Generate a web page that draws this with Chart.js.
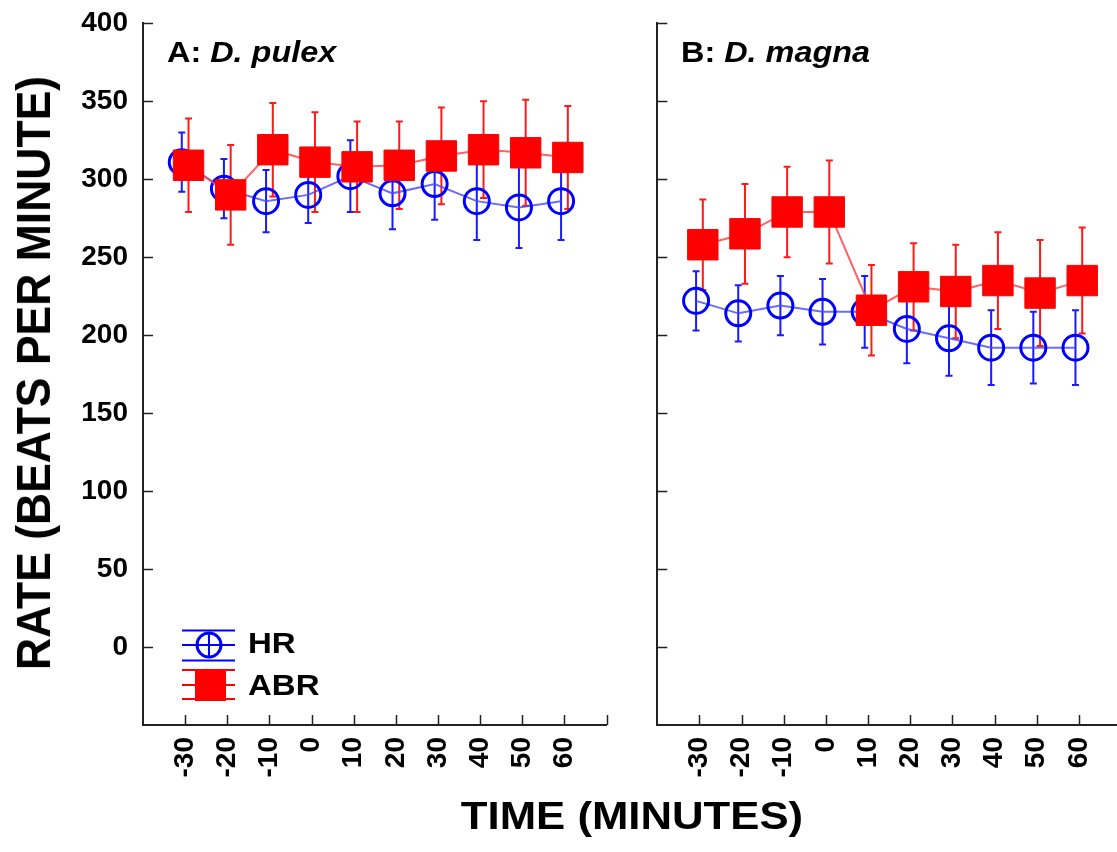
<!DOCTYPE html>
<html lang="en">
  <head>
    <meta charset="UTF-8" />
    <title>Heart rate and ABR - Daphnia</title>
    <script src="https://cdn.jsdelivr.net/npm/chart.js"></script>
    <style>
      body {
        margin: 0;
        width: 1117px;
        height: 852px;
        overflow: hidden;
        background: #fff;
        position: relative;
        font-family: "Liberation Sans", Arial, sans-serif;
      }
      canvas { position: absolute; top: 0; }
      .txt {
        position: absolute;
        font-weight: bold;
        white-space: nowrap;
        color: #000;
      }
      .panel { font-size: 30px; line-height: 30px; transform-origin: left center; transform: scaleX(1.08); top: 37px; }
      .leg { font-size: 30px; line-height: 30px; transform-origin: left center; transform: scaleX(1.1); left: 248px; }
    </style>
  </head>
  <body>
    <canvas id="chartA" width="640" height="852" style="left:0"></canvas>
    <canvas id="chartB" width="560" height="852" style="left:600px"></canvas>

    <div class="txt" style="left:34px; top:373px; font-size:44.5px; line-height:44px; transform: translate(-50%,-50%) rotate(-90deg) scaleY(1.08);">RATE (BEATS PER MINUTE)</div>
    <div class="txt" style="left:632px; top:816px; font-size:38px; line-height:38px; transform: translate(-50%,-50%) scaleX(1.15);">TIME (MINUTES)</div>

    <div class="txt panel" style="left:167px">A: <i>D. pulex</i></div>
    <div class="txt panel" style="left:681px">B: <i>D. magna</i></div>

    <div class="txt leg" style="top:628px">HR</div>
    <div class="txt leg" style="top:670px">ABR</div>

    <script>
      // time points (minutes)
      const times = [-30, -20, -10, 0, 10, 20, 30, 40, 50, 60];
      const yTicks = [0, 50, 100, 150, 200, 250, 300, 350, 400];

      // A: D. pulex
      const pulexHR = [311, 294, 286, 290, 302, 291, 297, 286, 282, 286];
      const pulexHRErr = [19, 19, 20, 18, 23, 23, 23, 25, 26, 25];
      const pulexABR = [309, 290, 319, 311, 308, 309, 315, 319, 317, 314];
      const pulexABRErr = [30, 32, 30, 32, 29, 28, 31, 31, 34, 33];

      // B: D. magna
      const magnaHR = [222, 214, 219, 215, 215, 204, 198, 192, 192, 192];
      const magnaHRErr = [19, 18, 19, 21, 23, 22, 24, 24, 23, 24];
      const magnaABR = [258, 265, 279, 279, 216, 231, 228, 235, 227, 235];
      const magnaABRErr = [29, 32, 29, 33, 29, 28, 30, 31, 34, 34];

      const DODGE = 0.8; // small horizontal shift so the two series don't sit on top of each other
      const BLUE = "#0000ff";
      const RED = "#ff0000";
      const FAMILY = "'Liberation Sans', Arial, sans-serif";
      const xTickFont = { family: FAMILY, size: 28, weight: "bold" };
      // small lineHeight keeps chart.js from pushing the plot area down for the top label
      const yTickFont = { family: FAMILY, size: 28, weight: "bold", lineHeight: 0.6 };

      function pts(vals, shift) {
        return vals.map((v, i) => ({ x: times[i] + shift, y: v }));
      }

      // error bars, inward tick marks and the legend symbols
      const decor = {
        id: "decor",
        beforeDatasetsDraw(chart) {
          const ctx = chart.ctx;
          const xs = chart.scales.x, ys = chart.scales.y;
          chart.data.datasets.forEach((ds) => {
            ctx.save();
            ctx.strokeStyle = ds.barColor;
            ctx.lineWidth = 2;
            ds.data.forEach((p, j) => {
              const e = ds.errors[j];
              const x = xs.getPixelForValue(p.x);
              const y1 = ys.getPixelForValue(p.y + e);
              const y2 = ys.getPixelForValue(p.y - e);
              ctx.beginPath();
              ctx.moveTo(x, y1); ctx.lineTo(x, y2);
              ctx.moveTo(x - 3.5, y1); ctx.lineTo(x + 3.5, y1);
              ctx.moveTo(x - 3.5, y2); ctx.lineTo(x + 3.5, y2);
              ctx.stroke();
            });
            ctx.restore();
          });
        },
        afterDraw(chart, args, opts) {
          const ctx = chart.ctx;
          const xs = chart.scales.x, ys = chart.scales.y;
          const a = chart.chartArea;
          ctx.save();
          ctx.strokeStyle = "#222";
          ctx.lineWidth = 1.5;
          ctx.beginPath();
          yTicks.forEach((v) => {
            const y = Math.round(ys.getPixelForValue(v)) + 0.5;
            ctx.moveTo(a.left, y); ctx.lineTo(a.left + 10, y);
          });
          times.concat([xs.max]).forEach((v) => {
            const x = Math.round(xs.getPixelForValue(v)) + 0.5;
            ctx.moveTo(x, a.bottom); ctx.lineTo(x, a.bottom - 10);
          });
          ctx.stroke();
          ctx.restore();

          if (!opts.legend) return;
          const cx = a.left + 66;
          ctx.save();
          ctx.lineWidth = 2;
          // HR
          let cy = a.bottom - 80;
          ctx.strokeStyle = BLUE;
          ctx.beginPath();
          [-14.5, 0, 15.5].forEach((d) => { ctx.moveTo(cx - 27, cy + d); ctx.lineTo(cx + 26, cy + d); });
          ctx.moveTo(cx, cy - 13); ctx.lineTo(cx, cy + 13);
          ctx.stroke();
          ctx.lineWidth = 3;
          ctx.beginPath();
          ctx.arc(cx, cy, 12, 0, Math.PI * 2);
          ctx.stroke();
          // ABR
          cy = a.bottom - 40;
          ctx.lineWidth = 2;
          ctx.strokeStyle = RED;
          ctx.beginPath();
          [-15, 0, 14].forEach((d) => { ctx.moveTo(cx - 27, cy + d); ctx.lineTo(cx + 26, cy + d); });
          ctx.stroke();
          ctx.fillStyle = RED;
          ctx.fillRect(cx - 14, cy - 15, 31, 31);
          ctx.restore();
        },
      };

      function makeChart(id, hr, hrErr, abr, abrErr, opt) {
        return new Chart(document.getElementById(id), {
          type: "line",
          data: {
            datasets: [
              {
                label: "HR",
                data: pts(hr, -DODGE),
                errors: hrErr,
                barColor: "#1a1aff",
                borderColor: "rgba(70,70,255,0.8)",
                borderWidth: 2,
                pointStyle: "circle",
                pointRadius: 12.5,
                pointBorderWidth: 3,
                pointBorderColor: BLUE,
                pointBackgroundColor: "rgba(0,0,0,0)",
                order: 1,
              },
              {
                label: "ABR",
                data: pts(abr, DODGE),
                errors: abrErr,
                barColor: "#ff1a1a",
                borderColor: "rgba(255,70,70,0.85)",
                borderWidth: 2,
                pointStyle: "rect",
                pointRadius: 21.5,
                pointBorderWidth: 1,
                pointBorderColor: RED,
                pointBackgroundColor: RED,
                order: 0,
              },
            ],
          },
          options: {
            responsive: false,
            animation: false,
            events: [],
            layout: { autoPadding: false, padding: opt.padding },
            scales: {
              x: {
                type: "linear",
                min: -40,
                max: 70,
                afterBuildTicks: (s) => { s.ticks = times.map((v) => ({ value: v })); },
                afterFit: (s) => { s.height = 127; },
                grid: { display: false, tickLength: 0 },
                border: { display: true, color: "#222", width: 2 },
                ticks: {
                  color: "#000",
                  font: xTickFont,
                  minRotation: 90,
                  maxRotation: 90,
                  padding: 12,
                  autoSkip: false,
                },
              },
              y: {
                min: -50,
                max: 400,
                afterBuildTicks: (s) => { s.ticks = yTicks.map((v) => ({ value: v })); },
                afterFit: (s) => { s.width = opt.yWidth; },
                grid: { display: false, tickLength: 0 },
                border: { display: true, color: "#222", width: 2 },
                ticks: {
                  display: opt.yLabels,
                  color: "#000",
                  font: yTickFont,
                  padding: 15,
                },
              },
            },
            plugins: {
              legend: { display: false },
              tooltip: { enabled: false },
              decor: { legend: opt.legend },
            },
          },
          plugins: [decor],
        });
      }

      makeChart("chartA", pulexHR, pulexHRErr, pulexABR, pulexABRErr, {
        padding: { left: 0, right: 33.4, top: 23.3, bottom: 0 },
        yWidth: 143,
        yLabels: true,
        legend: true,
      });

      makeChart("chartB", magnaHR, magnaHRErr, magnaABR, magnaABRErr, {
        padding: { left: 0, right: 39, top: 23.3, bottom: 0 },
        yWidth: 57.3,
        yLabels: false,
        legend: false,
      });
    </script>
  </body>
</html>
